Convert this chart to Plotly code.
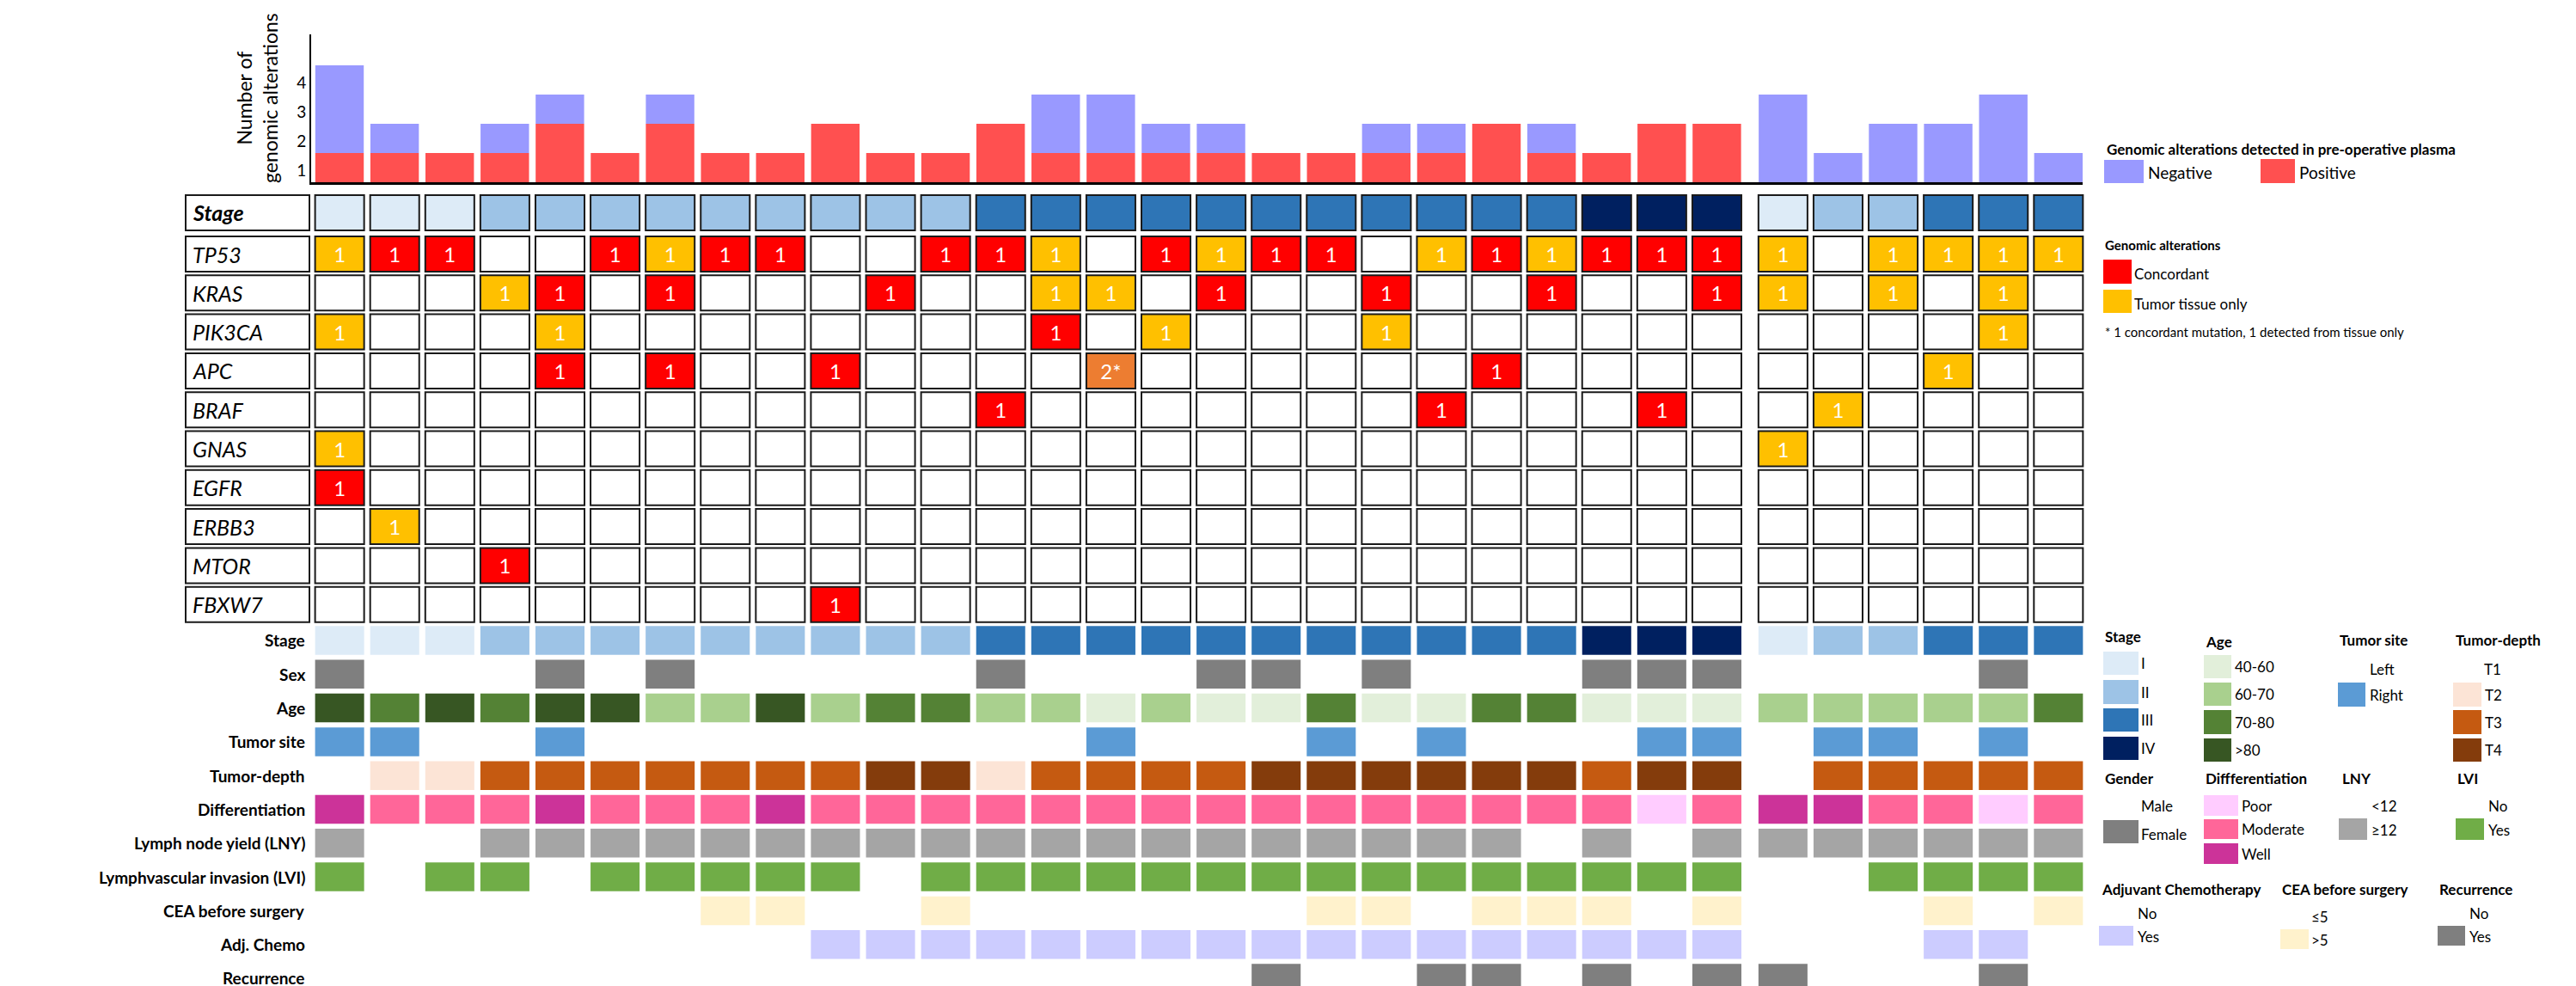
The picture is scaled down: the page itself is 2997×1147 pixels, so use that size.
import plotly.graph_objects as go

W, H = 2997, 1147
FONT = "Lato, 'Open Sans', sans-serif"

# ---------------- data ----------------
# genomic alterations detected in pre-operative plasma (top bar chart)
plasma_positive = [1, 1, 1, 1, 2, 1, 2, 1, 1, 2, 1, 1, 2, 1, 1, 1,
                   1, 1, 1, 1, 1, 2, 1, 1, 2, 2, 0, 0, 0, 0, 0, 0]
plasma_negative = [3, 1, 0, 1, 1, 0, 1, 0, 0, 0, 0, 0, 0, 2, 2, 1,
                   1, 0, 0, 1, 1, 0, 1, 0, 0, 0, 3, 1, 2, 2, 3, 1]

# C = concordant, T = tumor tissue only, B = 1 concordant + 1 tissue only, - = none
gene_names = ["TP53", "KRAS", "PIK3CA", "APC", "BRAF", "GNAS", "EGFR", "ERBB3", "MTOR", "FBXW7"]
tp53 = ["T", "C", "C", "-", "-", "C", "T", "C", "C", "-", "-", "C", "C", "T", "-", "C",
        "T", "C", "C", "-", "T", "C", "T", "C", "C", "C", "T", "-", "T", "T", "T", "T"]
kras = ["-", "-", "-", "T", "C", "-", "C", "-", "-", "-", "C", "-", "-", "T", "T", "-",
        "C", "-", "-", "C", "-", "-", "C", "-", "-", "C", "T", "-", "T", "-", "T", "-"]
pik3ca = ["T", "-", "-", "-", "T", "-", "-", "-", "-", "-", "-", "-", "-", "C", "-", "T",
          "-", "-", "-", "T", "-", "-", "-", "-", "-", "-", "-", "-", "-", "-", "T", "-"]
apc = ["-", "-", "-", "-", "C", "-", "C", "-", "-", "C", "-", "-", "-", "-", "B", "-",
       "-", "-", "-", "-", "-", "C", "-", "-", "-", "-", "-", "-", "-", "T", "-", "-"]
braf = ["-", "-", "-", "-", "-", "-", "-", "-", "-", "-", "-", "-", "C", "-", "-", "-",
        "-", "-", "-", "-", "C", "-", "-", "-", "C", "-", "-", "T", "-", "-", "-", "-"]
gnas = ["T", "-", "-", "-", "-", "-", "-", "-", "-", "-", "-", "-", "-", "-", "-", "-",
        "-", "-", "-", "-", "-", "-", "-", "-", "-", "-", "T", "-", "-", "-", "-", "-"]
egfr = ["C", "-", "-", "-", "-", "-", "-", "-", "-", "-", "-", "-", "-", "-", "-", "-",
        "-", "-", "-", "-", "-", "-", "-", "-", "-", "-", "-", "-", "-", "-", "-", "-"]
erbb3 = ["-", "T", "-", "-", "-", "-", "-", "-", "-", "-", "-", "-", "-", "-", "-", "-",
         "-", "-", "-", "-", "-", "-", "-", "-", "-", "-", "-", "-", "-", "-", "-", "-"]
mtor = ["-", "-", "-", "C", "-", "-", "-", "-", "-", "-", "-", "-", "-", "-", "-", "-",
        "-", "-", "-", "-", "-", "-", "-", "-", "-", "-", "-", "-", "-", "-", "-", "-"]
fbxw7 = ["-", "-", "-", "-", "-", "-", "-", "-", "-", "C", "-", "-", "-", "-", "-", "-",
         "-", "-", "-", "-", "-", "-", "-", "-", "-", "-", "-", "-", "-", "-", "-", "-"]
gene_rows = [tp53, kras, pik3ca, apc, braf, gnas, egfr, erbb3, mtor, fbxw7]

# clinical annotations
stage = ["I", "I", "I", "II", "II", "II", "II", "II", "II", "II", "II", "II", "III", "III", "III", "III",
         "III", "III", "III", "III", "III", "III", "III", "IV", "IV", "IV", "I", "II", "II", "III", "III", "III"]
sex = ["F", "M", "M", "M", "F", "M", "F", "M", "M", "M", "M", "M", "F", "M", "M", "M",
       "F", "F", "M", "F", "M", "M", "M", "F", "F", "F", "M", "M", "M", "M", "F", "M"]
age = [">80", "70-80", ">80", "70-80", ">80", ">80", "60-70", "60-70", ">80", "60-70", "70-80", "70-80",
       "60-70", "60-70", "40-60", "60-70", "40-60", "40-60", "70-80", "40-60", "40-60", "70-80", "70-80",
       "40-60", "40-60", "40-60", "60-70", "60-70", "60-70", "60-70", "60-70", "70-80"]
tumor_site = ["R", "R", "L", "L", "R", "L", "L", "L", "L", "L", "L", "L", "L", "L", "R", "L",
              "L", "L", "R", "L", "R", "L", "L", "L", "R", "R", "L", "R", "R", "L", "R", "L"]
tumor_depth = ["T1", "T2", "T2", "T3", "T3", "T3", "T3", "T3", "T3", "T3", "T4", "T4", "T2", "T3", "T3", "T3",
               "T3", "T4", "T4", "T4", "T4", "T4", "T4", "T3", "T4", "T4", "T1", "T3", "T3", "T3", "T3", "T3"]
differentiation = ["W", "M", "M", "M", "W", "M", "M", "M", "W", "M", "M", "M", "M", "M", "M", "M",
                   "M", "M", "M", "M", "M", "M", "M", "M", "P", "M", "W", "W", "M", "M", "P", "M"]
lny = [">=12", "<12", "<12", ">=12", ">=12", ">=12", ">=12", ">=12", ">=12", ">=12", ">=12", ">=12",
       ">=12", ">=12", ">=12", ">=12", ">=12", ">=12", ">=12", ">=12", ">=12", ">=12", "<12", ">=12",
       "<12", ">=12", ">=12", ">=12", ">=12", ">=12", ">=12", ">=12"]
lvi = ["Y", "N", "Y", "Y", "N", "Y", "Y", "Y", "Y", "Y", "N", "Y", "Y", "Y", "Y", "Y",
       "Y", "Y", "Y", "Y", "Y", "Y", "Y", "Y", "Y", "Y", "N", "N", "Y", "Y", "Y", "Y"]
cea = ["<=5", "<=5", "<=5", "<=5", "<=5", "<=5", "<=5", ">5", ">5", "<=5", "<=5", ">5", "<=5", "<=5", "<=5", "<=5",
       "<=5", "<=5", ">5", ">5", "<=5", ">5", ">5", ">5", "<=5", ">5", "<=5", "<=5", "<=5", ">5", "<=5", ">5"]
adj_chemo = ["N", "N", "N", "N", "N", "N", "N", "N", "N", "Y", "Y", "Y", "Y", "Y", "Y", "Y",
             "Y", "Y", "Y", "Y", "Y", "Y", "Y", "Y", "Y", "Y", "N", "N", "N", "Y", "Y", "N"]
recurrence = ["N", "N", "N", "N", "N", "N", "N", "N", "N", "N", "N", "N", "N", "N", "N", "N",
              "N", "Y", "N", "N", "Y", "Y", "N", "Y", "N", "Y", "Y", "N", "N", "N", "Y", "N"]

# ---------------- colours ----------------
stage_colors = {"I": "#ddebf7", "II": "#9dc3e6", "III": "#2e75b6", "IV": "#002060"}
gene_colors = {"C": "#ff0000", "T": "#ffc000", "B": "#ed7d31", "-": "white"}
gene_text = {"C": "1", "T": "1", "B": "2*", "-": ""}

clinical = [
    ("Stage", stage, stage_colors),
    ("Sex", sex, {"F": "#7f7f7f"}),
    ("Age", age, {"40-60": "#e2efda", "60-70": "#a9d08e", "70-80": "#548235", ">80": "#375623"}),
    ("Tumor site", tumor_site, {"R": "#5b9bd5"}),
    ("Tumor-depth", tumor_depth, {"T2": "#fce4d6", "T3": "#c55a11", "T4": "#843c0c"}),
    ("Differentiation", differentiation, {"P": "#ffccff", "M": "#ff6699", "W": "#cc3399"}),
    ("Lymph node yield (LNY)", lny, {">=12": "#a5a5a5"}),
    ("Lymphvascular invasion (LVI)", lvi, {"Y": "#70ad47"}),
    ("CEA before surgery", cea, {">5": "#fff2cc"}),
    ("Adj. Chemo", adj_chemo, {"Y": "#ccccff"}),
    ("Recurrence", recurrence, {"Y": "#7f7f7f"}),
]

# column positions: second cohort is set slightly apart
xpos = [i + (0.2 if i >= 26 else 0) for i in range(len(stage))]
CELL_W = 0.89


def px(x):
    return x / W


def py(y):
    return 1 - y / H


fig = go.Figure()

# ---------------- top bar chart ----------------
fig.add_trace(go.Bar(x=xpos, y=plasma_positive, width=0.88, marker=dict(color="#ff5050", line=dict(width=0)),
                     xaxis="x2", yaxis="y2", hoverinfo="skip", showlegend=False))
fig.add_trace(go.Bar(x=xpos, y=plasma_negative, base=plasma_positive, width=0.88,
                     marker=dict(color="#9999ff", line=dict(width=0)),
                     xaxis="x2", yaxis="y2", hoverinfo="skip", showlegend=False))

# ---------------- gene grid ----------------
GENE_H = 0.905
STAGE_ROW = -1.06
shapes = []
annotations = []

fig.add_trace(go.Bar(x=xpos, y=[GENE_H] * len(stage), base=[STAGE_ROW - GENE_H / 2] * len(stage), width=CELL_W,
                     marker=dict(color=[stage_colors[s] for s in stage], line=dict(color="#1a1a1a", width=2)),
                     xaxis="x", yaxis="y", hoverinfo="skip", showlegend=False))

for r, (name, states) in enumerate(zip(gene_names, gene_rows)):
    fig.add_trace(go.Bar(
        x=xpos, y=[GENE_H] * len(states), base=[r - GENE_H / 2] * len(states), width=CELL_W,
        marker=dict(color=[gene_colors[s] for s in states], line=dict(color="#1a1a1a", width=2)),
        text=[gene_text[s] for s in states], textposition="inside", insidetextanchor="middle",
        textangle=0, constraintext="none", textfont=dict(color="white", size=24, family=FONT),
        xaxis="x", yaxis="y", hoverinfo="skip", showlegend=False))

# label boxes on the left of the gene grid
for r, name in [(STAGE_ROW, "<b><i>Stage</i></b>")] + [(i, "<i>%s</i>" % g) for i, g in enumerate(gene_names)]:
    shapes.append(dict(type="rect", xref="paper", yref="y", x0=px(208), x1=px(352),
                       y0=r - GENE_H / 2, y1=r + GENE_H / 2, line=dict(color="#1a1a1a", width=2),
                       fillcolor="white", layer="below"))
    annotations.append(dict(xref="paper", yref="y", x=px(214), y=r, text=name, showarrow=False,
                            xanchor="left", yanchor="middle", font=dict(size=25, color="black", family=FONT)))

# ---------------- clinical rows ----------------
CLIN_H = 0.852
for r, (label, values, cmap) in enumerate(clinical):
    xs = [x for x, v in zip(xpos, values) if v in cmap]
    cs = [cmap[v] for v in values if v in cmap]
    fig.add_trace(go.Bar(x=xs, y=[CLIN_H] * len(xs), base=[r - CLIN_H / 2] * len(xs), width=CELL_W,
                         marker=dict(color=cs, line=dict(width=0)),
                         xaxis="x", yaxis="y3", hoverinfo="skip", showlegend=False))
    annotations.append(dict(xref="paper", yref="y3", x=px(349), y=r, text="<b>%s</b>" % label, showarrow=False,
                            xanchor="right", yanchor="middle", font=dict(size=19, color="black", family=FONT)))

# ---------------- legends ----------------
def swatch(x0, y0, x1, y1, color):
    shapes.append(dict(type="rect", xref="paper", yref="paper", x0=px(x0), x1=px(x1), y0=py(y1), y1=py(y0),
                       fillcolor=color, line=dict(width=0)))


def label(x, y, text, size=17, bold=False):
    annotations.append(dict(xref="paper", yref="paper", x=px(x), y=py(y), text="<b>%s</b>" % text if bold else text,
                            showarrow=False, xanchor="left", yanchor="middle",
                            font=dict(size=size, color="black", family=FONT)))


label(2441, 166, "Genomic alterations detected in pre-operative plasma", 17, True)
swatch(2440, 178, 2486, 205, "#9999ff")
label(2489, 193, "Negative", 19)
swatch(2622, 177, 2662, 205, "#ff5050")
label(2665, 193, "Positive", 19)

label(2439, 277, "Genomic alterations", 15, True)
swatch(2439, 294, 2472, 322, "#ff0000")
label(2473, 311, "Concordant", 17)
swatch(2439, 329, 2472, 356, "#ffc000")
label(2473, 345, "Tumor tissue only", 17)
label(2439, 378, "* 1 concordant mutation, 1 detected from tissue only", 15)

label(2439, 732, "Stage", 17, True)
for (y0, y1), t in zip([(750, 777), (783, 811), (816, 843), (849, 876)], ["I", "II", "III", "IV"]):
    swatch(2439, y0, 2480, y1, stage_colors[t])
    label(2481, (y0 + y1) / 2, t, 17)

label(2556, 738, "Age", 17, True)
for (y0, y1), t in zip([(754, 781), (786, 813), (818, 846), (851, 878)], ["40-60", "60-70", "70-80", ">80"]):
    swatch(2556, y0, 2588, y1, clinical[2][2][t])
    label(2590, (y0 + y1) / 2, t, 17)

label(2712, 736, "Tumor site", 17, True)
label(2747, 770, "Left", 17)
swatch(2712, 786, 2744, 814, "#5b9bd5")
label(2747, 800, "Right", 17)

label(2847, 736, "Tumor-depth", 17, True)
label(2880, 770, "T1", 17)
for (y0, y1), t in zip([(786, 814), (818, 846), (851, 878)], ["T2", "T3", "T4"]):
    swatch(2846, y0, 2879, y1, clinical[4][2][t])
    label(2881, (y0 + y1) / 2, t, 17)

label(2439, 897, "Gender", 17, True)
label(2481, 929, "Male", 17)
swatch(2439, 946, 2480, 973, "#7f7f7f")
label(2481, 962, "Female", 17)

label(2556, 897, "Diffferentiation", 17, True)
for (y0, y1), t, k in zip([(917, 941), (945, 968), (973, 997)], ["Poor", "Moderate", "Well"], ["P", "M", "W"]):
    swatch(2556, y0, 2596, y1, clinical[5][2][k])
    label(2598, (y0 + y1) / 2, t, 17)

label(2715, 897, "LNY", 17, True)
label(2749, 929, "&lt;12", 17)
swatch(2713, 944, 2746, 969, "#a5a5a5")
label(2749, 957, "≥12", 17)

label(2849, 897, "LVI", 17, True)
label(2885, 929, "No", 17)
swatch(2849, 944, 2882, 969, "#70ad47")
label(2885, 957, "Yes", 17)

label(2435, 1026, "Adjuvant Chemotherapy", 17, True)
label(2477, 1054, "No", 17)
swatch(2434, 1069, 2474, 1092, "#ccccff")
label(2477, 1081, "Yes", 17)

label(2645, 1026, "CEA before surgery", 17, True)
label(2679, 1058, "≤5", 17)
swatch(2645, 1073, 2678, 1096, "#fff2cc")
label(2679, 1085, "&gt;5", 17)

label(2828, 1026, "Recurrence", 17, True)
label(2863, 1054, "No", 17)
swatch(2828, 1069, 2860, 1092, "#7f7f7f")
label(2863, 1081, "Yes", 17)

# y title of the bar chart
annotations.append(dict(xref="paper", yref="paper", x=px(291), y=py(106), text="Number of<br>genomic alterations",
                        textangle=-90, showarrow=False, xanchor="center", yanchor="middle",
                        font=dict(size=23, color="black", family=FONT)))

fig.update_layout(
    width=W, height=H, autosize=False,
    margin=dict(l=0, r=0, t=0, b=0, pad=0),
    paper_bgcolor="white", plot_bgcolor="white",
    barmode="overlay",
    font=dict(family=FONT, color="black"),
    xaxis=dict(domain=[0, 1], range=[-6.04, 40.72], visible=False, anchor="y", fixedrange=True),
    yaxis=dict(domain=[0, 1], range=[18.974, -6.347], visible=False, anchor="x", fixedrange=True),
    yaxis3=dict(domain=[0, 1], range=[10.433, -18.753], visible=False, anchor="x", overlaying="y",
                fixedrange=True),
    xaxis2=dict(domain=[px(354), px(2415)], range=[-0.515, 31.64], anchor="y2", showline=True,
                linecolor="black", linewidth=3, showticklabels=False, ticks="", showgrid=False,
                zeroline=False, fixedrange=True),
    yaxis2=dict(domain=[py(204), py(32)], range=[0, 5.06], anchor="x2", showline=True, linecolor="black",
                linewidth=2, tickvals=[0.4, 1.4, 2.4, 3.4], ticktext=["1", "2", "3", "4"], ticks="",
                showgrid=False, zeroline=False, tickfont=dict(size=19, color="black", family=FONT),
                fixedrange=True),
    shapes=shapes,
    annotations=annotations,
)

fig.write_html("out.html")
